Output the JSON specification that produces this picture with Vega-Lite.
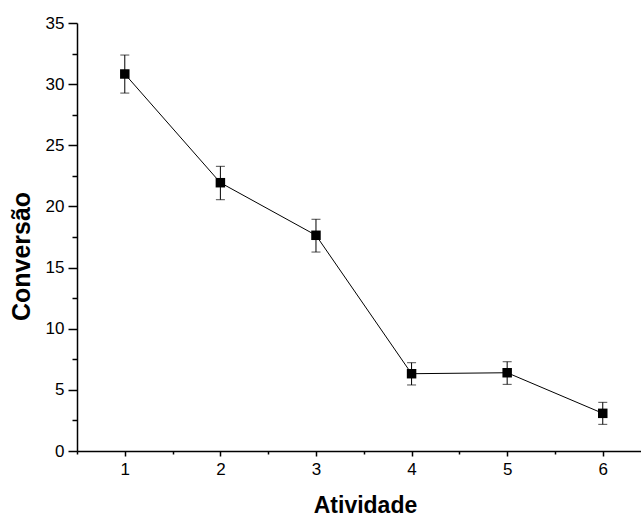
{
  "$schema": "https://vega.github.io/schema/vega-lite/v6.json",
  "autosize": {"type": "none"},
  "padding": {"left": 77, "top": 23, "right": 0, "bottom": 66},
  "width": 564,
  "height": 428,
  "background": "white",
  "config": {
    "view": {"stroke": null},
    "font": "Liberation Sans",
    "axis": {
      "domainColor": "black",
      "domainWidth": 1.5,
      "tickColor": "black",
      "tickWidth": 1.5,
      "labelColor": "black",
      "labelFont": "Liberation Sans",
      "labelFontSize": 17,
      "titleFont": "Liberation Sans",
      "titleFontSize": 23,
      "titleFontWeight": "bold",
      "titleColor": "black",
      "grid": false
    }
  },
  "data": {
    "values": [
      {"atividade": 1, "conversao": 30.83, "lo": 29.27, "hi": 32.38},
      {"atividade": 2, "conversao": 21.94, "lo": 20.55, "hi": 23.28},
      {"atividade": 3, "conversao": 17.64, "lo": 16.27, "hi": 18.95},
      {"atividade": 4, "conversao": 6.32, "lo": 5.40, "hi": 7.22},
      {"atividade": 5, "conversao": 6.40, "lo": 5.45, "hi": 7.30},
      {"atividade": 6, "conversao": 3.08, "lo": 2.18, "hi": 3.98}
    ]
  },
  "encoding": {
    "x": {
      "field": "atividade",
      "type": "quantitative",
      "scale": {"domain": [0.5, 6.4], "nice": false, "zero": false},
      "axis": {
        "title": "Atividade",
        "titleX": 288,
        "values": [0.5, 1, 1.5, 2, 2.5, 3, 3.5, 4, 4.5, 5, 5.5, 6],
        "format": "~g",
        "labelExpr": "datum.value % 1 === 0 ? datum.label : ''",
        "tickSize": {"condition": {"test": "datum.value % 1 !== 0", "value": 3}, "value": 5},
        "labelPadding": 5,
        "titlePadding": 17
      }
    },
    "y": {
      "field": "conversao",
      "type": "quantitative",
      "scale": {"domain": [0, 35], "nice": false},
      "axis": {
        "title": "Conversão",
        "titleFontSize": 25,
        "titleY": 233,
        "values": [0, 2.5, 5, 7.5, 10, 12.5, 15, 17.5, 20, 22.5, 25, 27.5, 30, 32.5, 35],
        "format": "~g",
        "labelExpr": "datum.value % 5 === 0 ? datum.label : ''",
        "tickSize": {"condition": {"test": "datum.value % 5 !== 0", "value": 5}, "value": 9},
        "labelPadding": 4,
        "titlePadding": 11
      }
    }
  },
  "layer": [
    {
      "mark": {"type": "rule", "color": "black", "strokeWidth": 1},
      "encoding": {"y": {"field": "lo", "type": "quantitative"}, "y2": {"field": "hi"}}
    },
    {
      "mark": {"type": "tick", "orient": "horizontal", "color": "black", "thickness": 1, "size": 9},
      "encoding": {"y": {"field": "lo", "type": "quantitative"}}
    },
    {
      "mark": {"type": "tick", "orient": "horizontal", "color": "black", "thickness": 1, "size": 9},
      "encoding": {"y": {"field": "hi", "type": "quantitative"}}
    },
    {
      "mark": {"type": "line", "color": "black", "strokeWidth": 1}
    },
    {
      "mark": {"type": "square", "color": "black", "filled": true, "opacity": 1, "size": 90}
    }
  ]
}
